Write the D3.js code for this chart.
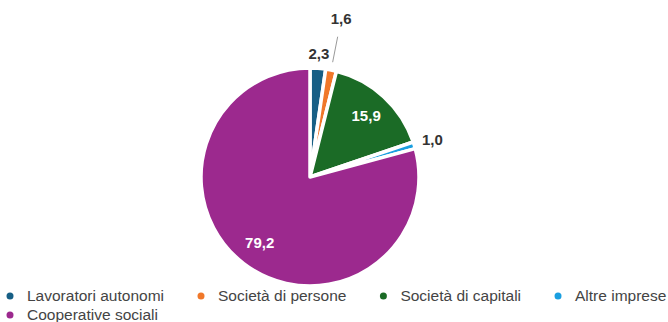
<!DOCTYPE html>
<html>
<head>
<meta charset="utf-8">
<script src="https://cdn.jsdelivr.net/npm/d3@7"></script>
<style>
  body { margin: 0; background: #fff; }
  svg { display: block; font-family: "Liberation Sans", Arial, sans-serif; }
</style>
</head>
<body>
<div id="chart"></div>
<script>
// dati
const categories = ["Lavoratori autonomi", "Società di persone", "Società di capitali", "Altre imprese", "Cooperative sociali"];
const values = [2.3, 1.6, 15.9, 1.0, 79.2];
const colors = ["#175f85", "#f0782a", "#1b6b26", "#1a9fe0", "#9c298e"];

const W = 668, H = 322;
const CX = 310, CY = 177, R = 109;

const svg = d3.select("#chart").append("svg")
    .attr("width", W)
    .attr("height", H);

const data = categories.map((c, i) => ({ name: c, value: values[i], color: colors[i] }));

const pie = d3.pie().sort(null).value(d => d.value);
const arcs = pie(data);
const arc = d3.arc().innerRadius(0).outerRadius(R);

const g = svg.append("g").attr("transform", `translate(${CX},${CY})`);

g.selectAll("path")
    .data(arcs)
    .join("path")
    .attr("d", arc)
    .attr("fill", d => d.data.color)
    .attr("stroke", "#fff")
    .attr("stroke-width", 3.5)
    .attr("stroke-linejoin", "round");

const fmt = v => d3.format(".1f")(v).replace(".", ",");
const pt = (a, r) => [Math.sin(a) * r, -Math.cos(a) * r];

// etichette: dentro per le fette grandi, fuori per le piccole
arcs.forEach((d, i) => {
    const mid = (d.startAngle + d.endAngle) / 2;
    const big = d.data.value > 10;
    let rr = big ? R * 0.76 : 124;
    if (i === 1) rr = 161;
    if (i === 3) rr = 128;
    const [x, y] = pt(mid, rr);
    if (i === 1) {
        const [x1, y1] = pt(mid, 117);
        const [x2, y2] = pt(mid, 143);
        g.append("line")
            .attr("x1", x1).attr("y1", y1)
            .attr("x2", x2).attr("y2", y2)
            .attr("stroke", "#999")
            .attr("stroke-width", 1);
    }
    g.append("text")
        .attr("x", x)
        .attr("y", y)
        .attr("dy", "0.35em")
        .attr("text-anchor", "middle")
        .attr("font-size", 15)
        .attr("font-weight", "bold")
        .attr("fill", big ? "#fff" : "#333")
        .text(fmt(d.data.value));
});

// legenda
const legend = svg.append("g");
let lx = 10, ly = 296;
const gap = 37;
data.forEach(d => {
    const item = legend.append("g");
    item.append("circle")
        .attr("cx", 0).attr("cy", 0).attr("r", 3.5)
        .attr("fill", d.color);
    const t = item.append("text")
        .attr("x", 17)
        .attr("y", 0)
        .attr("dy", "0.35em")
        .attr("font-size", 15.5)
        .attr("fill", "#444")
        .text(d.name);
    const w = 17 + t.node().getComputedTextLength();
    if (lx + w > W) { lx = 10; ly += 19; }
    item.attr("transform", `translate(${lx},${ly})`);
    lx += w + gap;
});
</script>
</body>
</html>
